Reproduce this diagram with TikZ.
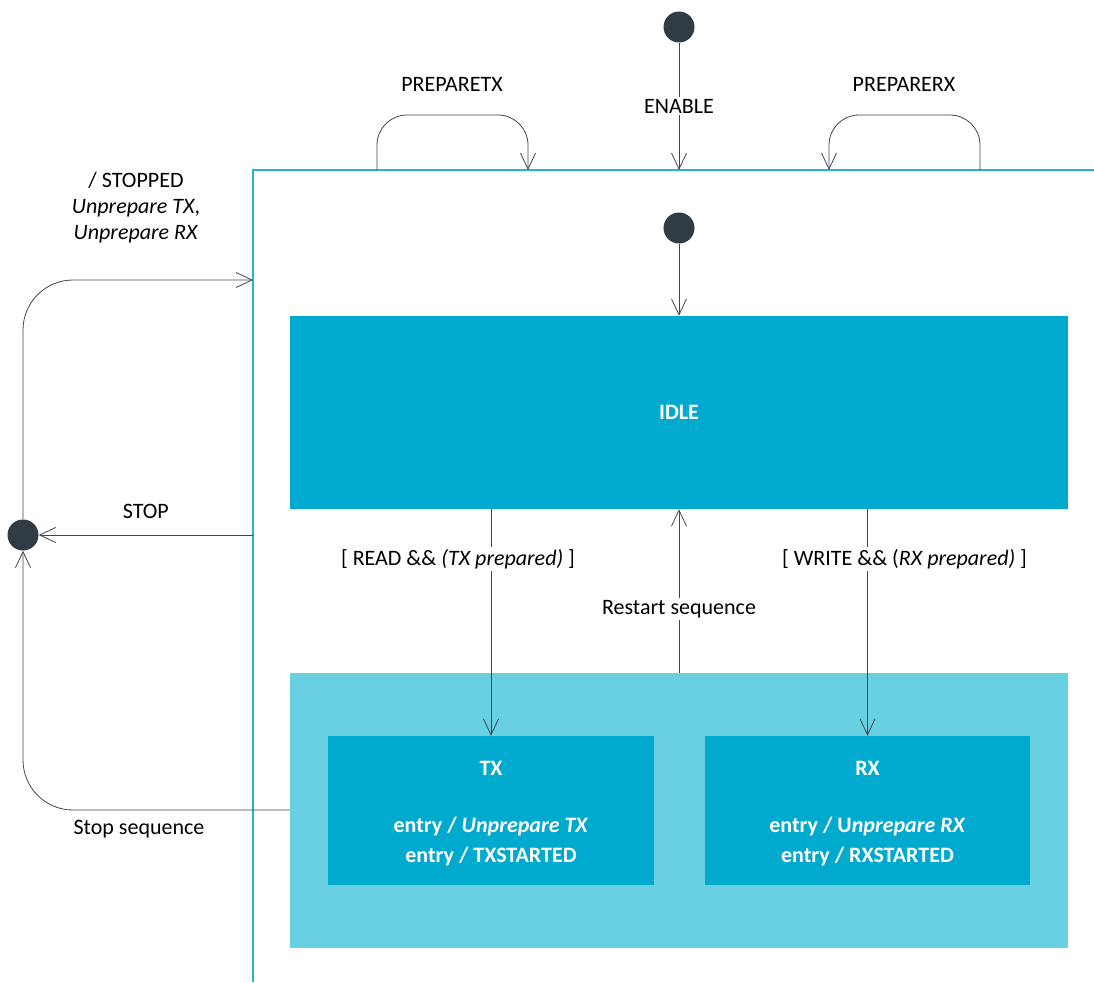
\documentclass[tikz,border=0pt]{standalone}
\usepackage{fontspec}
\setmainfont{Carlito}
\usetikzlibrary{arrows.meta}

\definecolor{cline}{HTML}{3B4651}
\definecolor{cdot}{HTML}{2F3B45}
\definecolor{cframe}{HTML}{1EB4DC}
\definecolor{cstate}{HTML}{00A9CE}
\definecolor{ccomp}{HTML}{69D0E1}

\tikzset{
  trans/.style={draw=cline, line width=0.8pt, ->},
  dot/.style={circle, fill=cdot, minimum size=31pt, inner sep=0pt},
  state/.style={fill=cstate, inner sep=0pt},
  stext/.style={text=white, font=\fontsize{22}{26}\selectfont\bfseries},
  lbl/.style={fill=white, inner sep=2pt}
}

\begin{document}
\begin{tikzpicture}[x=1pt, y=-1pt, font=\fontsize{22}{26}\selectfont,
  >={Straight Barb[length=16pt, width=15pt]}]
  \useasboundingbox (0,0) rectangle (1094,982);
  \draw[cframe, line width=1.2pt] (253,982) -- (253,170) -- (1094,170);
  \coordinate (en) at (679,170);
  \coordinate (ptxa) at (377,170); \coordinate (ptxb) at (528,170);
  \coordinate (prxa) at (980,170); \coordinate (prxb) at (829,170);
  \coordinate (stopin) at (253,535); \coordinate (stopout) at (253,280);
  \node[dot] (init) at (679,27) {};
  \node[dot] (init2) at (679,228) {};
  \node[dot] (fin) at (23,535) {};
  \node[state, minimum width=778pt, minimum height=193pt] (idle) at (679,412.5) {};
  \node[stext] at (idle) {IDLE};
  \node[fill=ccomp, minimum width=778pt, minimum height=275pt] (run) at (679,810.5) {};
  \node[state, minimum width=326pt, minimum height=149pt] (tx) at (491,810.5) {};
  \node[state, minimum width=325pt, minimum height=149pt] (rx) at (867.5,810.5) {};
  \node[stext] at (491,768) {TX};
  \node[stext] at (491,826) {entry / \textit{Unprepare TX}};
  \node[stext] at (491,856) {entry / TXSTARTED};
  \node[stext] at (867.5,768) {RX};
  \node[stext] at (867.5,826) {entry / U\textit{nprepare RX}};
  \node[stext] at (867.5,856) {entry / RXSTARTED};
  \draw[trans] (init) -- (en) node[lbl, pos=0.5] {ENABLE};
  \draw[trans, rounded corners=30pt] (ptxa) -- (377,115) -- (528,115) -- (ptxb);
  \node at (452,84) {PREPARETX};
  \draw[trans, rounded corners=30pt] (prxa) -- (980,115) -- (829,115) -- (prxb);
  \node at (904,84) {PREPARERX};
  \draw[trans] (init2) -- (idle.north);
  \draw[trans] (idle.south -| tx.north) -- (tx.north)
    node[lbl, pos=0.22, xshift=-33pt] {[ READ \&\& \textit{(TX prepared)} ]};
  \draw[trans] (idle.south -| rx.north) -- (rx.north)
    node[lbl, pos=0.22, xshift=37pt] {[ WRITE \&\& (\textit{RX prepared)} ]};
  \draw[trans] (run.north) -- (idle.south) node[lbl, pos=0.39] {Restart sequence};
  \draw[trans] (stopin) -- (fin) node[above=13pt, pos=0.5] {STOP};
  \draw[trans, rounded corners=50pt] (run.west |- 0,810) -- (23,810) -- (fin.south);
  \node at (139,829) {Stop sequence};
  \draw[trans, rounded corners=50pt] (fin.north) -- (23,280) -- (stopout);
  \node[align=center] at (136,208) {/ STOPPED\\\textit{Unprepare TX},\\\textit{Unprepare RX}};
\end{tikzpicture}
\end{document}
